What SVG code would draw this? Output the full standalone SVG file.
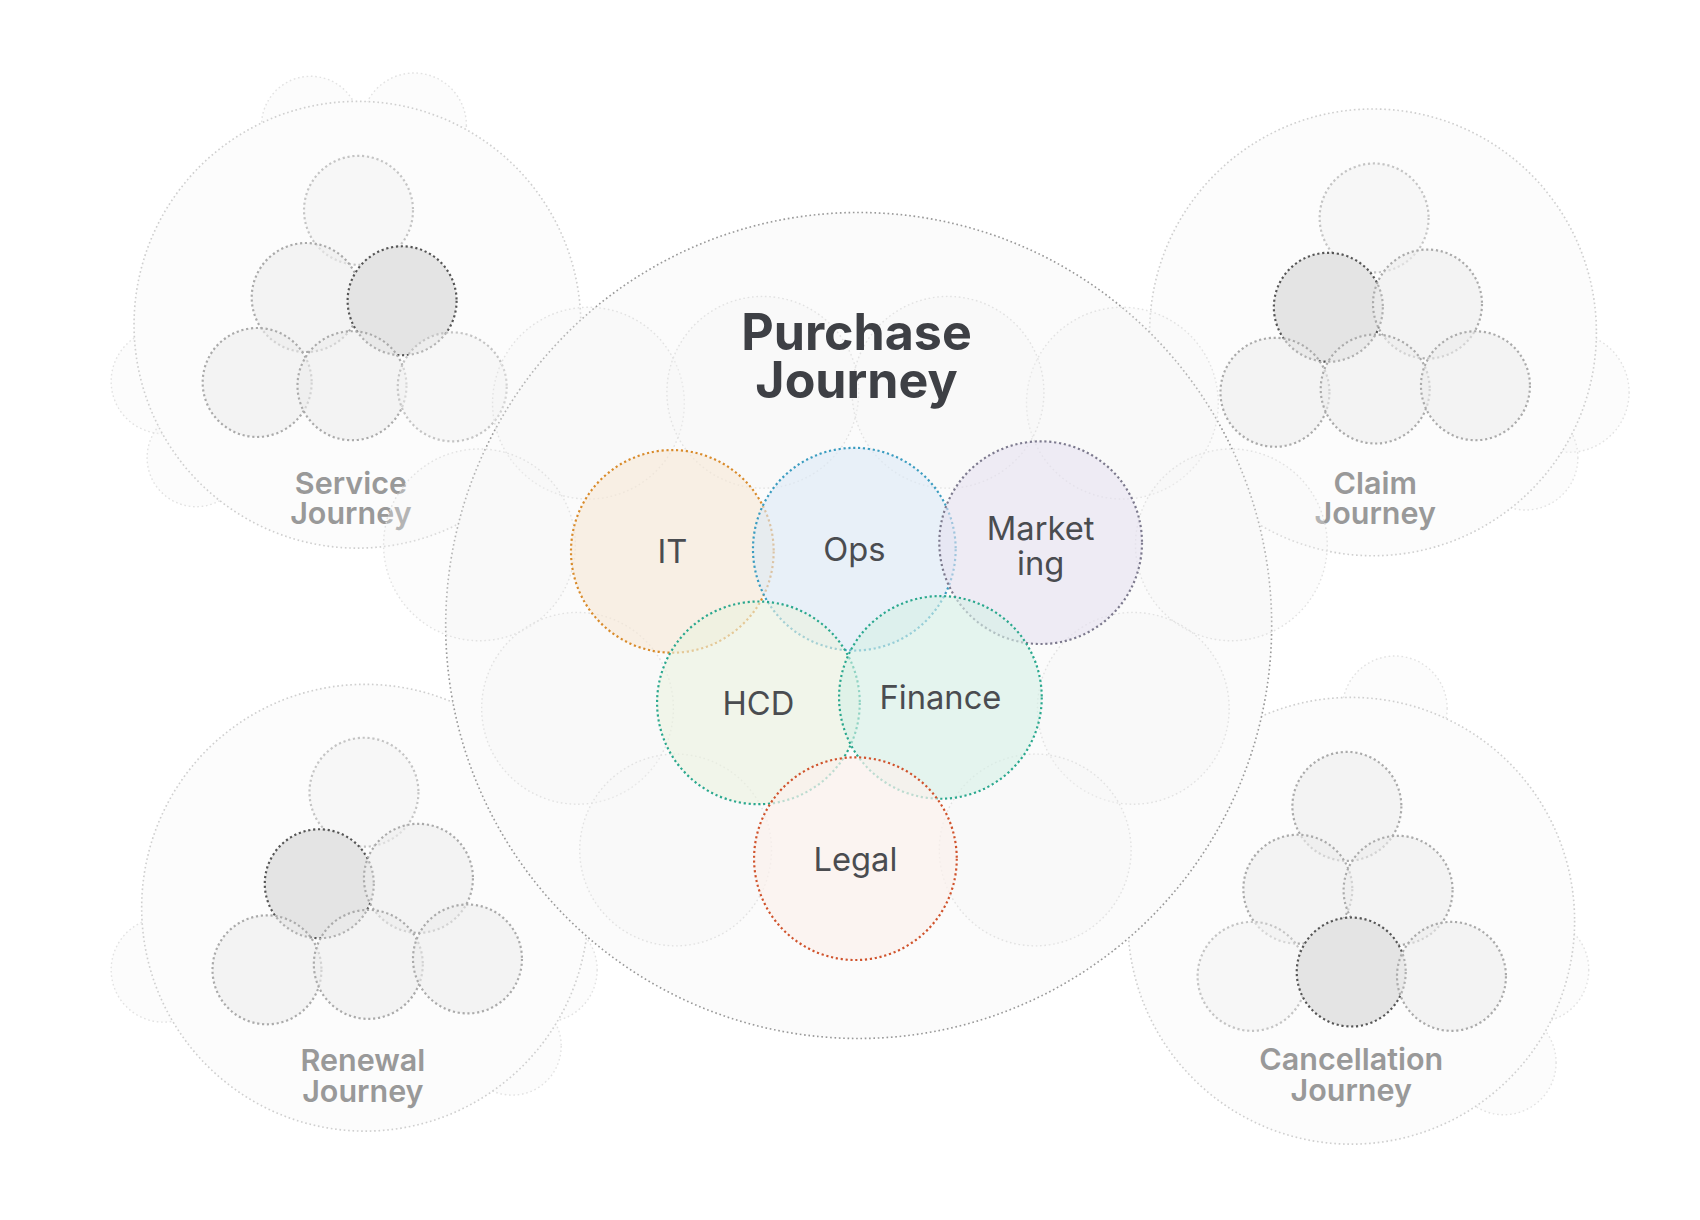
<svg xmlns="http://www.w3.org/2000/svg" width="1700" height="1220" viewBox="0 0 1700 1220">
<style>
.big{fill:#fcfcfc;stroke:#cfcfcf;stroke-width:1.5;stroke-dasharray:1.5 2.5}
.main{fill:#fbfbfb;stroke:#999;stroke-width:1.5;stroke-dasharray:1.5 2.5}
.ghost{fill:#f6f6f6;fill-opacity:0.3;stroke:#e2e2e2;stroke-width:1.3;stroke-dasharray:1.5 2.5}
.sm{fill:#ececec;fill-opacity:0.6;stroke:#aaa;stroke-width:2;stroke-dasharray:2 2.5}
.dk{fill:#e4e4e4;stroke:#555;stroke-width:2;stroke-dasharray:2 2.5}
.lt{fill:#f4f4f4;fill-opacity:0.6;stroke:#c4c4c4;stroke-width:2;stroke-dasharray:2 2.5}
.jl{font-family:Inter,"Open Sans",sans-serif;font-weight:600;font-size:28px;fill:#999;text-anchor:middle}
.dl{font-family:Inter,"Open Sans",sans-serif;font-size:30px;fill:#4a4c50;text-anchor:middle}
.t{font-family:Inter,"Open Sans",sans-serif;font-weight:700;font-size:46px;fill:#3e4045;text-anchor:middle}
.d{stroke-width:2;stroke-dasharray:2 2.5}
</style>
<rect width="1700" height="1220" fill="#fff"/>
<g transform="scale(1.0897)">
<g id="bg-ghosts">
<circle class="ghost" cx="285" cy="115" r="45"/><circle class="ghost" cx="380" cy="115" r="48"/>
<circle class="ghost" cx="240" cy="195" r="45"/><circle class="ghost" cx="420" cy="200" r="48"/>
<circle class="ghost" cx="190" cy="270" r="45"/><circle class="ghost" cx="460" cy="270" r="48"/>
<circle class="ghost" cx="150" cy="350" r="48"/><circle class="ghost" cx="180" cy="420" r="45"/>
<circle class="ghost" cx="1160" cy="200" r="48"/><circle class="ghost" cx="1360" cy="200" r="48"/>
<circle class="ghost" cx="1120" cy="270" r="48"/><circle class="ghost" cx="1400" cy="270" r="48"/>
<circle class="ghost" cx="1440" cy="360" r="55"/><circle class="ghost" cx="1400" cy="420" r="48"/>
<circle class="ghost" cx="240" cy="730" r="45"/><circle class="ghost" cx="420" cy="730" r="48"/>
<circle class="ghost" cx="190" cy="810" r="48"/><circle class="ghost" cx="150" cy="890" r="48"/>
<circle class="ghost" cx="500" cy="890" r="48"/><circle class="ghost" cx="470" cy="960" r="45"/>
<circle class="ghost" cx="1150" cy="730" r="48"/><circle class="ghost" cx="1280" cy="650" r="48"/>
<circle class="ghost" cx="1100" cy="890" r="48"/><circle class="ghost" cx="1410" cy="890" r="48"/>
<circle class="ghost" cx="1380" cy="975" r="48"/>
</g>
<g id="service-journey">
<circle class="big" cx="328" cy="298" r="205"/>
<circle class="lt" cx="329" cy="193" r="50"/><circle class="sm" cx="281" cy="273" r="50"/><circle class="dk" cx="369" cy="276" r="50"/>
<circle class="sm" cx="236" cy="351" r="50"/><circle class="sm" cx="323" cy="354" r="50"/><circle class="lt" cx="415" cy="355" r="50"/>
<text class="jl" x="322" y="453">Service</text><text class="jl" x="322" y="481">Journey</text>
</g>
<g id="claim-journey">
<circle class="big" cx="1260" cy="305" r="205"/>
<circle class="lt" cx="1261" cy="200" r="50"/><circle class="dk" cx="1219" cy="282" r="50"/><circle class="sm" cx="1310" cy="279" r="50"/>
<circle class="sm" cx="1170" cy="360" r="50"/><circle class="sm" cx="1262" cy="357" r="50"/><circle class="sm" cx="1354" cy="354" r="50"/>
<text class="jl" x="1262" y="453">Claim</text><text class="jl" x="1262" y="481">Journey</text>
</g>
<g id="renewal-journey">
<circle class="big" cx="335" cy="833" r="205"/>
<circle class="lt" cx="334" cy="727" r="50"/><circle class="dk" cx="293" cy="811" r="50"/><circle class="sm" cx="384" cy="806" r="50"/>
<circle class="sm" cx="245" cy="890" r="50"/><circle class="sm" cx="338" cy="885" r="50"/><circle class="sm" cx="429" cy="880" r="50"/>
<text class="jl" x="333" y="983">Renewal</text><text class="jl" x="333" y="1011">Journey</text>
</g>
<g id="cancellation-journey">
<circle class="big" cx="1240" cy="845" r="205"/>
<circle class="sm" cx="1236" cy="740" r="50"/><circle class="sm" cx="1191" cy="816" r="50"/><circle class="sm" cx="1283" cy="817" r="50"/>
<circle class="lt" cx="1149" cy="896" r="50"/><circle class="dk" cx="1240" cy="892" r="50"/><circle class="sm" cx="1332" cy="896" r="50"/>
<text class="jl" x="1240" y="982">Cancellation</text><text class="jl" x="1240" y="1010">Journey</text>
</g>
<g id="purchase-journey">
<circle class="main" cx="788" cy="574" r="379"/>
<circle class="ghost" cx="540" cy="370" r="88"/><circle class="ghost" cx="1030" cy="370" r="88"/>
<circle class="ghost" cx="440" cy="500" r="88"/><circle class="ghost" cx="1130" cy="500" r="88"/>
<circle class="ghost" cx="530" cy="650" r="88"/><circle class="ghost" cx="1040" cy="650" r="88"/>
<circle class="ghost" cx="620" cy="780" r="88"/><circle class="ghost" cx="950" cy="780" r="88"/>
<circle class="ghost" cx="700" cy="360" r="88"/><circle class="ghost" cx="870" cy="360" r="88"/>
<text class="t" x="786" y="321">Purchase</text><text class="t" x="786" y="365">Journey</text>
</g>
<g id="it"><circle class="d" cx="617" cy="506" r="93" fill="#f6e7d6" fill-opacity="0.6" stroke="#d98b2b"/><text class="dl" x="617" y="517">IT</text></g>
<g id="ops"><circle class="d" cx="784" cy="504" r="93" fill="#dce9f6" fill-opacity="0.6" stroke="#3a9cc0"/><text class="dl" x="784" y="515">Ops</text></g>
<g id="marketing"><circle class="d" cx="955" cy="498" r="93" fill="#e6e1f0" fill-opacity="0.6" stroke="#7d7a8e"/><text class="dl" x="955" y="496">Market</text><text class="dl" x="955" y="528">ing</text></g>
<g id="hcd"><circle class="d" cx="696" cy="645" r="93" fill="#ebf2e0" fill-opacity="0.6" stroke="#2aa88e"/><text class="dl" x="696" y="656">HCD</text></g>
<g id="finance"><circle class="d" cx="863" cy="640" r="93" fill="#d5f0e6" fill-opacity="0.6" stroke="#2aa88e"/><text class="dl" x="863" y="651">Finance</text></g>
<g id="legal"><circle class="d" cx="785" cy="788" r="93" fill="#fbf1ec" fill-opacity="0.7" stroke="#d0532c"/><text class="dl" x="785" y="799">Legal</text></g>
<g id="connectors"/>
</g>
</svg>
